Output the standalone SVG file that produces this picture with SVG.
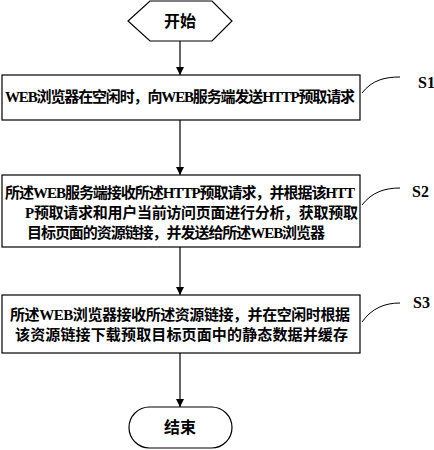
<svg xmlns="http://www.w3.org/2000/svg" width="434" height="450" viewBox="0 0 434 450">
<defs>
<marker id="ah" viewBox="0 0 10 10" refX="10" refY="5" markerWidth="8" markerHeight="8" markerUnits="userSpaceOnUse" orient="auto">
<path d="M0,0 L10,5 L0,10 z" fill="#000"/>
</marker>
<style>
.shape{fill:#fff;stroke:#000;stroke-width:1.2}
.t{font-family:"Liberation Serif","Noto Sans CJK SC",serif;font-size:15px;font-weight:bold;fill:#000}
.big{font-size:16px}
.lbl{font-family:"Liberation Serif","Noto Sans CJK SC",serif;font-size:16px;font-weight:bold;fill:#000}
.c{fill:none;stroke:#000;stroke-width:1.2}
.lead{fill:none;stroke:#000;stroke-width:1}
</style>
</defs>
<rect width="434" height="450" fill="#fff"/>
<g id="connectors">
<line class="c" x1="180" y1="41" x2="180" y2="75" marker-end="url(#ah)"/>
<line class="c" x1="180" y1="120" x2="180" y2="175" marker-end="url(#ah)"/>
<line class="c" x1="180" y1="247" x2="180" y2="295" marker-end="url(#ah)"/>
<line class="c" x1="180" y1="353" x2="180" y2="407" marker-end="url(#ah)"/>
<path class="lead" d="M362,93 C372,80 385,77 400,77"/>
<path class="lead" d="M362,205 C372,192 385,188 400,188"/>
<path class="lead" d="M362,322 C372,308 385,303 400,303"/>
</g>
<g id="start">
<polygon class="shape" points="150,1 212,1 232,21 212,41 150,41 128,21"/>
<text class="t big" x="180" y="27" text-anchor="middle">开始</text>
</g>
<g id="s1">
<rect class="shape" x="2" y="75" width="358" height="45"/>
<text class="t" x="5" y="102" textLength="350">WEB浏览器在空闲时，向WEB服务端发送HTTP预取请求</text>
<text class="lbl" x="418" y="88">S1</text>
</g>
<g id="s2">
<rect class="shape" x="2" y="175" width="358" height="72"/>
<text class="t" x="5" y="198" textLength="350">所述WEB服务端接收所述HTTP预取请求，并根据该HTT</text>
<text class="t" x="25" y="218" textLength="333">P预取请求和用户当前访问页面进行分析，获取预取</text>
<text class="t" x="27" y="238" textLength="298">目标页面的资源链接，并发送给所述WEB浏览器</text>
<text class="lbl" x="412" y="197">S2</text>
</g>
<g id="s3">
<rect class="shape" x="2" y="295" width="358" height="58"/>
<text class="t" x="10" y="320" textLength="340">所述WEB浏览器接收所述资源链接，并在空闲时根据</text>
<text class="t" x="15" y="340" textLength="333">该资源链接下载预取目标页面中的静态数据并缓存</text>
<text class="lbl" x="413" y="308">S3</text>
</g>
<g id="end">
<rect class="shape" x="129" y="407" width="103" height="41" rx="20.5" ry="20.5"/>
<text class="t big" x="180" y="433" text-anchor="middle">结束</text>
</g>
</svg>
